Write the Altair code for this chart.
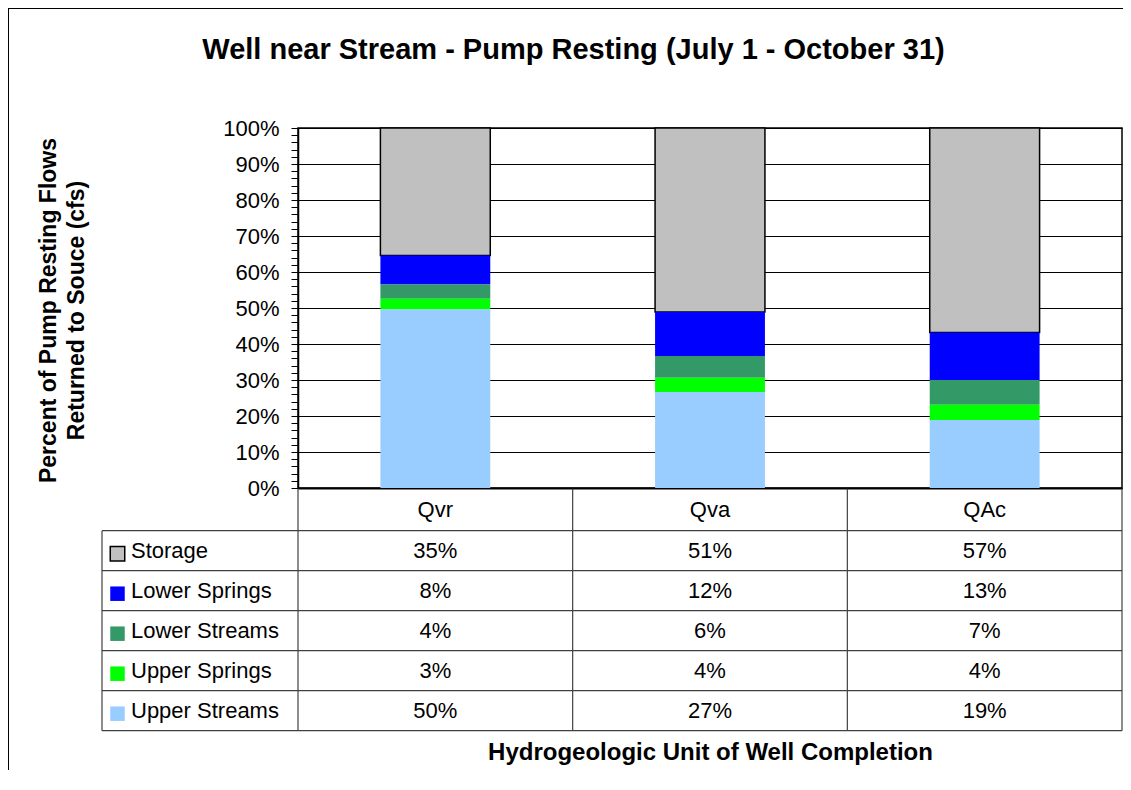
import altair as alt
import pandas as pd

# ---------------- data ----------------
categories = ["Qvr", "Qva", "QAc"]
series = ["Storage", "Lower Springs", "Lower Streams", "Upper Springs", "Upper Streams"]
series_colors = ["#C0C0C0", "#0000FF", "#339966", "#00FF00", "#99CCFF"]

storage = [35.4, 51.1, 56.8]
lower_springs = [8.1, 12.2, 13.2]
lower_streams = [3.9, 6.1, 6.9]
upper_springs = [3.0, 3.9, 4.2]
upper_streams = [49.6, 26.7, 18.9]

y_ticks = list(range(0, 101, 2))

title_text = "Well near Stream - Pump Resting (July 1 - October 31)"
y_title = ["Percent of Pump Resting Flows", "Returned to Souce (cfs)"]
x_title = "Hydrogeologic Unit of Well Completion"

FONT = "Liberation Sans"

# ---------------- tables built from the lists ----------------
values_by_series = [storage, lower_springs, lower_streams, upper_springs, upper_streams]
rows = []
for s_i, (name, vals) in enumerate(zip(series, values_by_series)):
    for c_i, (cat, v) in enumerate(zip(categories, vals)):
        rows.append({
            "category": cat, "series": name, "value": v,
            "stack_order": len(series) - 1 - s_i,
            "col": c_i + 0.5, "row": s_i + 1.5,
            "label": f"{round(v)}%",
        })
df = pd.DataFrame(rows)

n_cols = len(categories)
n_rows = len(series) + 1

hlines = pd.DataFrame({"y": list(range(1, n_rows + 1)), "x0": -1, "x1": n_cols})
vlines = pd.DataFrame({"x": [-1] + list(range(0, n_cols + 1)),
                       "y0": [1] + [0] * (n_cols + 1), "y1": n_rows})
header = pd.DataFrame({"category": categories,
                       "col": [i + 0.5 for i in range(n_cols)], "row": 0.5})
legend_df = pd.DataFrame({"series": series,
                          "row": [i + 1.5 for i in range(len(series))], "x": -1})
frame_df = pd.DataFrame({"k": [0]})

# table scales (piecewise: label column / data columns, header row / body rows)
tx = alt.Scale(domain=[-1, 0, n_cols], range=[-196, 0, 824], nice=False, zero=False)
ty = alt.Scale(domain=[0, 1, n_rows], range=[360.7, 402.7, 602.7], nice=False, zero=False)
color_scale = alt.Scale(domain=series, range=series_colors)

# ---------------- bars ----------------
bars = alt.Chart(df).mark_bar(stroke="black").encode(
    x=alt.X("category:N", sort=categories,
            scale=alt.Scale(paddingInner=0.6, paddingOuter=0.3),
            axis=alt.Axis(orient="bottom", labels=False, ticks=False, domain=True,
                          domainColor="black", domainWidth=2,
                          title=x_title, titleY=271, titleBaseline="alphabetic",
                          titleFontSize=24, titleFontWeight="bold", titleFont=FONT,
                          titleColor="black")),
    y=alt.Y("value:Q", stack="zero",
            scale=alt.Scale(domain=[0, 100], nice=False),
            axis=alt.Axis(orient="left", values=y_ticks,
                          labelExpr="datum.value % 10 === 0 ? datum.value + '%' : ''",
                          labelOverlap=False, labelFont=FONT, labelFontSize=22,
                          labelColor="black", labelPadding=12,
                          tickSize=7, tickColor="black", tickWidth=1,
                          domainColor="black", domainWidth=1.5,
                          grid=True, gridColor="black", gridWidth=1,
                          gridOpacity={"condition": {"test": "datum.value % 10 === 0", "value": 1},
                                       "value": 0},
                          title=y_title, titleFont=FONT, titleFontSize=23,
                          titleFontWeight="bold", titleColor="black",
                          titleAngle=270, titleX=-243, titleY=182,
                          titleAlign="center", titleBaseline="alphabetic",
                          titleLineHeight=28)),
    color=alt.Color("series:N", scale=color_scale, legend=None),
    order=alt.Order("stack_order:Q"),
    strokeWidth=alt.condition("datum.series === 'Storage'", alt.value(1.5), alt.value(0)),
)

# ---------------- data table ----------------
hrules = alt.Chart(hlines).mark_rule(color="#404040", strokeWidth=1.2).encode(
    x=alt.X("x0:Q", scale=tx, axis=None), x2="x1:Q",
    y=alt.Y("y:Q", scale=ty, axis=None))
vrules = alt.Chart(vlines).mark_rule(color="#404040", strokeWidth=1.2).encode(
    x=alt.X("x:Q", scale=tx, axis=None),
    y=alt.Y("y0:Q", scale=ty, axis=None), y2="y1:Q")

text_style = dict(font=FONT, fontSize=22, color="black", baseline="middle")

header_text = alt.Chart(header).mark_text(align="center", **text_style).encode(
    x=alt.X("col:Q", scale=tx, axis=None),
    y=alt.Y("row:Q", scale=ty, axis=None),
    text="category:N")

value_text = alt.Chart(df).mark_text(align="center", **text_style).encode(
    x=alt.X("col:Q", scale=tx, axis=None),
    y=alt.Y("row:Q", scale=ty, axis=None),
    text="label:N")

legend_text = alt.Chart(legend_df).mark_text(align="left", dx=29, **text_style).encode(
    x=alt.X("x:Q", scale=tx, axis=None),
    y=alt.Y("row:Q", scale=ty, axis=None),
    text="series:N")

squares = alt.Chart(legend_df).mark_square(size=210, opacity=1, filled=True,
                                           xOffset=15.5, yOffset=3, stroke="black").encode(
    x=alt.X("x:Q", scale=tx, axis=None),
    y=alt.Y("row:Q", scale=ty, axis=None),
    color=alt.Color("series:N", scale=color_scale, legend=None),
    strokeWidth=alt.condition("datum.series === 'Storage'", alt.value(1.5), alt.value(0)))

# ---------------- outer chart frame ----------------
frame_left = alt.Chart(frame_df).mark_rule(color="black", strokeWidth=1).encode(
    x=alt.value(-289.5), y=alt.value(-120), y2=alt.value(660))
frame_top = alt.Chart(frame_df).mark_rule(color="black", strokeWidth=1).encode(
    x=alt.value(-290), x2=alt.value(830), y=alt.value(-119.5))

chart = alt.layer(
    bars, hrules, vrules, squares, legend_text, header_text, value_text,
    frame_left, frame_top,
).resolve_scale(
    x="independent", y="independent"
).properties(
    width=824, height=360,
    autosize=alt.AutoSizeParams(type="none"),
    padding={"left": 290, "top": 120, "right": 1, "bottom": 282},
    title=alt.TitleParams(title_text, font=FONT, fontSize=29, fontWeight="bold",
                          color="black", anchor="middle", frame="group",
                          dx=-136.5, dy=80, offset=0, baseline="alphabetic"),
).configure_view(
    stroke="black", strokeWidth=1.5
)

chart.save("out.html", embed_options={"renderer": "svg", "actions": False})
